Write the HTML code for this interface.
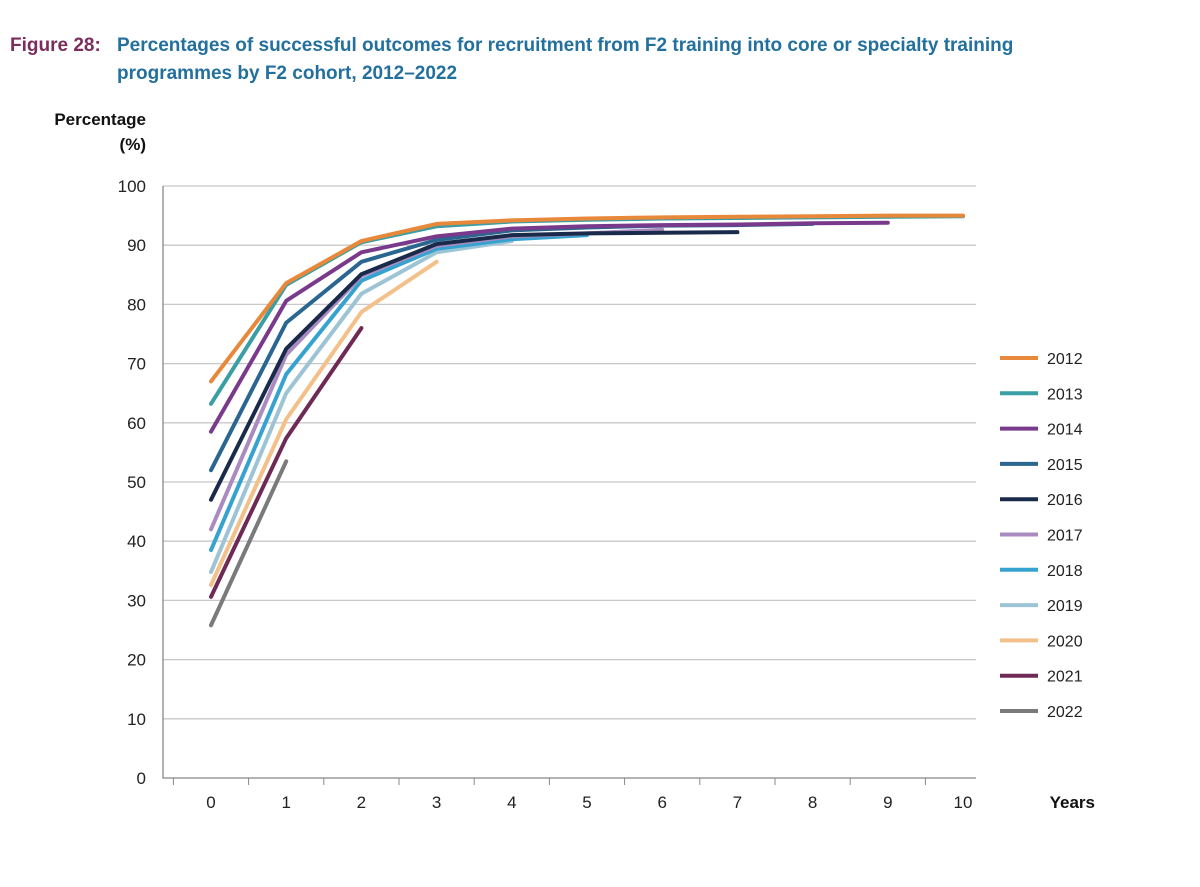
<!DOCTYPE html>
<html><head><meta charset="utf-8"><style>
body{margin:0;background:#fff;width:1200px;height:887px;overflow:hidden;font-family:"Liberation Sans",sans-serif}
</style></head><body>
<svg id="c" width="1200" height="887" style="position:absolute;left:0;top:0">
<text x="10" y="51" font-size="19" font-weight="bold" fill="#7b2d5e">Figure 28:</text>
<text x="117" y="51" font-size="19" font-weight="bold" fill="#23709e">Percentages of successful outcomes for recruitment from F2 training into core or specialty training</text>
<text x="117" y="79" font-size="19" font-weight="bold" fill="#23709e">programmes by F2 cohort, 2012–2022</text>
<text x="146" y="125" font-size="17" font-weight="bold" text-anchor="end" fill="#111">Percentage</text>
<text x="146" y="150" font-size="17" font-weight="bold" text-anchor="end" fill="#111">(%)</text>
<text x="1095" y="808" font-size="17" font-weight="bold" text-anchor="end" fill="#111">Years</text>
<g id="grid"></g><g id="lines"></g><g id="legend"></g>
</svg>
<script>
const years=[0,1,2,3,4,5,6,7,8,9,10];
const yTicks=[0,10,20,30,40,50,60,70,80,90,100];
const cohorts=["2012","2013","2014","2015","2016","2017","2018","2019","2020","2021","2022"];
const colors=["#e8883a","#3a9ea5","#7a3a8c","#2a6690","#1a2a4a","#a98bc0","#36a2d0","#9cc4d4","#f3c08a","#6e2a55","#7a7a7a"];
const s2012=[67,83.6,90.7,93.6,94.2,94.5,94.7,94.8,94.9,95,95];
const s2013=[63.2,83.3,90.5,93.2,94,94.3,94.5,94.6,94.7,94.8,94.9];
const s2014=[58.5,80.6,88.8,91.5,92.8,93.2,93.4,93.5,93.7,93.8];
const s2015=[52,76.9,87.2,90.9,92.5,93,93.3,93.4,93.6];
const s2016=[47,72.5,85.1,90.2,91.7,92,92.1,92.2];
const s2017=[42,71.5,84.8,89.9,91.5,92,92.6];
const s2018=[38.5,68.2,84,89.4,91,91.7];
const s2019=[34.8,65,81.8,88.8,90.7];
const s2020=[32.6,60.6,78.7,87.2];
const s2021=[30.6,57.4,76];
const s2022=[25.8,53.5];
const series=[s2012,s2013,s2014,s2015,s2016,s2017,s2018,s2019,s2020,s2021,s2022];
const NS="http://www.w3.org/2000/svg";
const X=v=>211+v*75.2, Y=v=>778-v*5.92;
function mk(t,a,p){const e=document.createElementNS(NS,t);for(const k in a)e.setAttribute(k,a[k]);p.appendChild(e);return e;}
const g=document.getElementById('grid');
yTicks.forEach(t=>{
 if(t>0){const l=mk('line',{x1:163,x2:976,y1:Y(t),y2:Y(t),stroke:'#c8c8c8','stroke-width':1.3},g);
 
 }
 const tx=mk('text',{x:146,y:Y(t)+6,'font-size':17,'text-anchor':'end',fill:'#222'},g);tx.textContent=t;
 
 
});
const ax=mk('path',{d:'M163 186V778H976',fill:'none',stroke:'#888','stroke-width':1.3},g);


years.forEach(v=>{
 const tk=mk('line',{x1:X(v)-37.6,x2:X(v)-37.6,y1:778,y2:785,stroke:'#888'},g);
 
 
 const tx=mk('text',{x:X(v),y:808,'font-size':17,'text-anchor':'middle',fill:'#222'},g);tx.textContent=v;
 
 
});
const L=document.getElementById('lines'),lg=document.getElementById('legend');
for(let i=series.length-1;i>=0;i--){
 const pts=series[i].map((v,j)=>X(years[j])+','+Y(v)).join(' ');
 const pl=mk('polyline',{points:pts,fill:'none',stroke:colors[i],'stroke-width':4,'stroke-linecap':'round','stroke-linejoin':'round'},L);
 
 
}
cohorts.forEach((c,i)=>{
 const y=358+i*35.3;
 const ln=mk('line',{x1:1000,x2:1038,y1:y,y2:y,stroke:colors[i],'stroke-width':4},lg);
 
 
 const tx=mk('text',{x:1047,y:y+6,'font-size':16,fill:'#222'},lg);tx.textContent=c;
 
 
});
</script>
</body></html>
